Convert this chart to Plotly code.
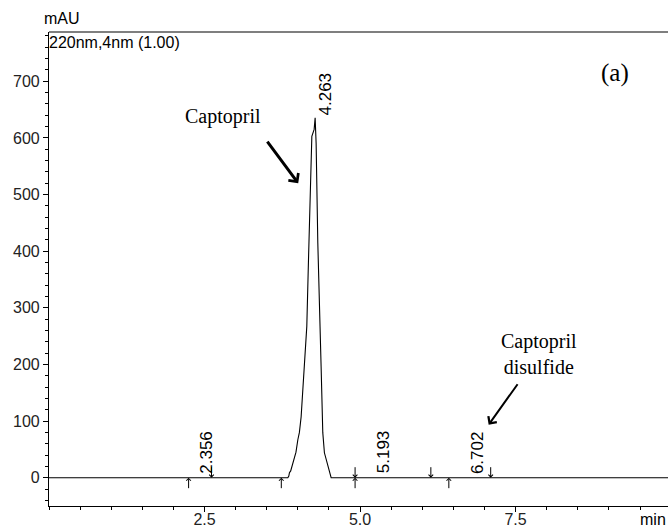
import plotly.graph_objects as go

# Chromatogram trace (time in min, absorbance in mAU)
time_min = [0.0, 3.839, 3.855, 3.865, 3.885, 3.905, 3.925, 3.945, 3.97, 4.0, 4.025,
            4.053, 4.07, 4.09, 4.122, 4.144, 4.17, 4.197, 4.225, 4.262, 4.278, 4.294,
            4.321, 4.374, 4.401, 4.427, 4.46, 4.49, 4.507, 4.535, 9.95]
absorbance = [0.0, 0.0, 3.0, 8.8, 12.0, 20.0, 24.0, 31.8, 45.0, 67.0, 80.0,
              107.7, 140.0, 167.8, 231.9, 267.2, 380.0, 473.0, 602.7, 615.0, 635.7, 590.0,
              414.4, 196.5, 79.5, 44.0, 30.0, 15.0, 8.8, 0.0, 0.0]

# Peak retention times and label heights
peak_times = [2.356, 4.263, 5.193, 6.702]
peak_labels = ["2.356", "4.263", "5.193", "6.702"]
peak_heights = [0.0, 632.0, 0.0, 0.0]

# Integration start (up arrows) and end (down arrows) marks
start_marks = [2.244, 3.734, 4.92, 6.427]
end_marks = [2.612, 4.92, 6.138, 7.10]

# Axis ticks
x_ticks = [2.5, 5.0, 7.5]
x_ticklabels = ["2.5", "5.0", "7.5"]
y_ticks = [0, 100, 200, 300, 400, 500, 600, 700]

fig = go.Figure()
fig.add_trace(go.Scatter(x=time_min, y=absorbance, mode="lines",
                         line=dict(color="black", width=1.1), hoverinfo="skip"))

ann = []
for t, lab, h in zip(peak_times, peak_labels, peak_heights):
    ann.append(dict(x=t, y=h, text=lab, showarrow=False, textangle=-90,
                    xanchor="center", yanchor="bottom", xshift=11, yshift=2,
                    font=dict(family="Liberation Sans, Arial", size=17, color="black")))
for t in start_marks:
    ann.append(dict(x=t, y=0, ax=0, ay=12, text="", showarrow=True,
                    arrowhead=4, arrowsize=0.9, arrowwidth=1, arrowcolor="black"))
for t in end_marks:
    ann.append(dict(x=t, y=0, ax=0, ay=-12, text="", showarrow=True,
                    arrowhead=4, arrowsize=0.9, arrowwidth=1, arrowcolor="black"))

serif = dict(family="Liberation Serif, Times New Roman", size=20, color="black")
ann += [
    dict(x=2.79, y=638, text="Captopril", showarrow=False, font=serif),
    dict(x=4.006, y=520, ax=-32, ay=-43, text="", showarrow=True,
         arrowhead=4, arrowsize=0.8, arrowwidth=3, arrowcolor="black"),
    dict(x=7.87, y=219, text="Captopril<br>disulfide", showarrow=False, font=serif),
    dict(x=7.067, y=93.5, ax=30, ay=-42, text="", showarrow=True,
         arrowhead=4, arrowsize=1, arrowwidth=2, arrowcolor="black"),
    dict(x=9.1, y=714, text="(a)", showarrow=False,
         font=dict(family="Liberation Serif, Times New Roman", size=25, color="black")),
    dict(xref="paper", yref="paper", x=-0.003, y=1.0, xanchor="left", yanchor="top",
         text="220nm,4nm (1.00)", showarrow=False,
         font=dict(family="Liberation Sans, Arial", size=16, color="black")),
    dict(xref="paper", yref="paper", x=-0.012, y=1.0, xanchor="left", yanchor="bottom",
         yshift=3, text="mAU", showarrow=False,
         font=dict(family="Liberation Sans, Arial", size=16, color="black")),
    dict(xref="paper", yref="paper", x=1.0, y=0, xanchor="right", yanchor="top",
         yshift=-3, text="min", showarrow=False,
         font=dict(family="Liberation Sans, Arial", size=16, color="black")),
]

fig.update_layout(
    width=668, height=528,
    margin=dict(l=49, r=0, t=32, b=22),
    paper_bgcolor="white", plot_bgcolor="white",
    showlegend=False,
    annotations=ann,
    shapes=[dict(type="line", xref="paper", yref="paper", x0=0, x1=1, y0=1, y1=1,
                 line=dict(color="black", width=1.2))],
    font=dict(family="Liberation Sans, Arial", size=16, color="#222"),
)
fig.update_xaxes(range=[0, 9.95], tickvals=x_ticks, ticktext=x_ticklabels,
                 automargin=False, ticklabelstandoff=-6,
                 showgrid=False, zeroline=False, showline=True, linecolor="black",
                 linewidth=1.2, ticks="outside", ticklen=5, tickcolor="black",
                 minor=dict(dtick=0.5, tick0=0, ticks="outside", ticklen=3,
                            tickcolor="black", showgrid=False))
fig.update_yaxes(range=[-50, 787], tickvals=y_ticks, automargin=False,
                 showgrid=False, zeroline=False, showline=True, linecolor="black",
                 linewidth=1.2, ticks="outside", ticklen=5, tickcolor="black",
                 minor=dict(dtick=20, tick0=0, ticks="outside", ticklen=3,
                            tickcolor="black", showgrid=False))

fig.write_html("out.html", config={"displayModeBar": False},
               post_script="document.body.style.margin='0';document.body.style.overflow='hidden';")
